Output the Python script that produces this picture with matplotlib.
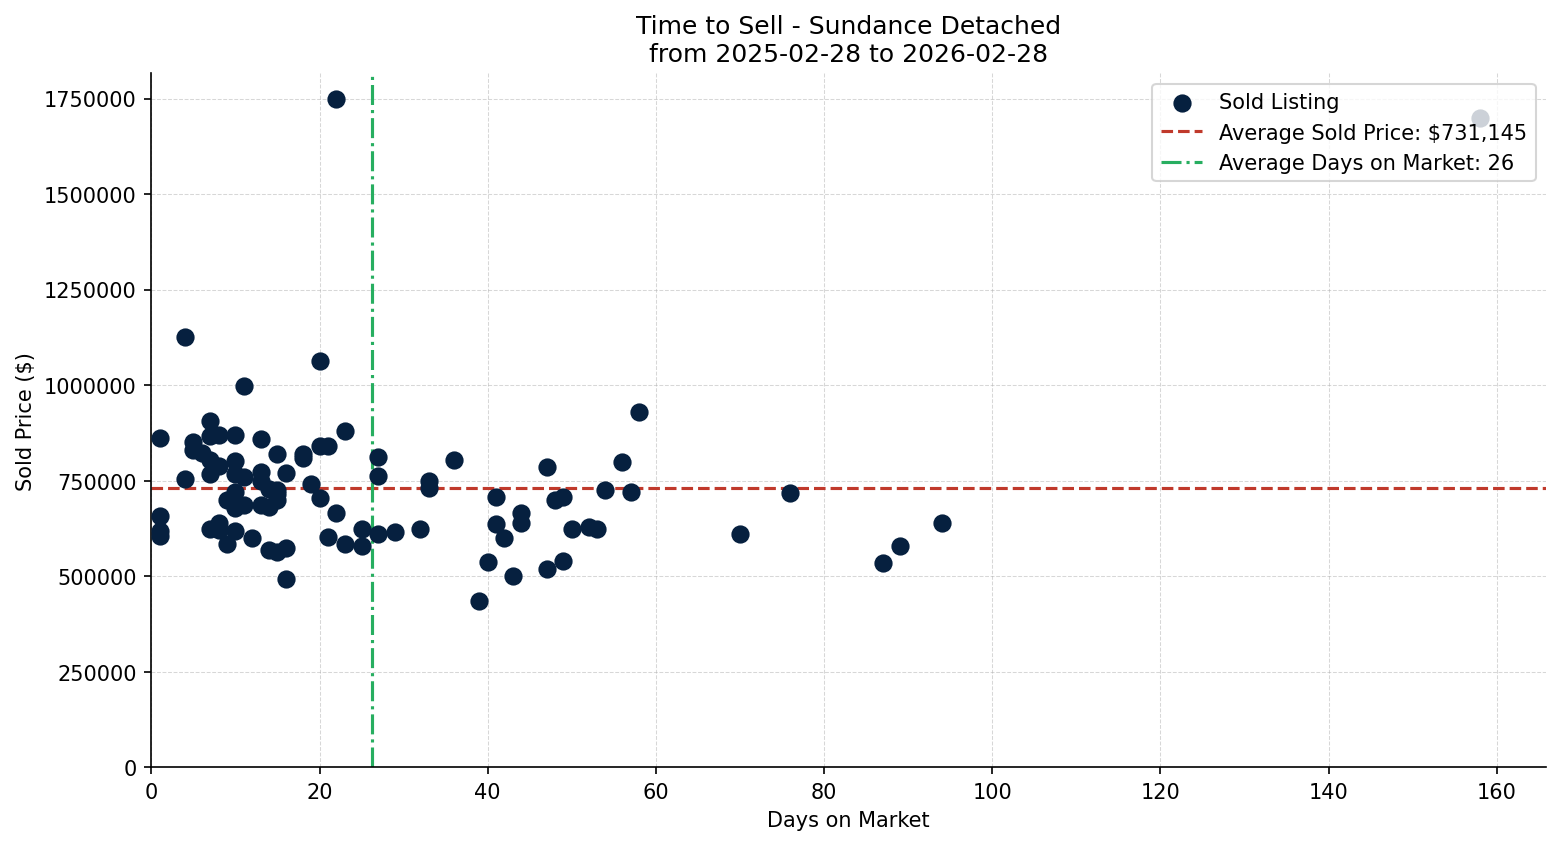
import matplotlib
matplotlib.use("Agg")
import matplotlib.pyplot as plt

# days on market / sold price
days = [4, 20, 11, 1, 7, 7, 8, 10, 13, 23,
        5, 5, 6, 7, 8, 7, 10, 10, 11, 15,
        13, 13, 16, 18, 18, 20, 21, 27, 27, 36,
        4, 19, 33, 33, 10, 15, 9, 10, 11, 13,
        14, 15, 20, 22, 1, 1, 1, 7, 8, 8,
        10, 9, 12, 14, 15, 16, 16, 21, 23, 25,
        25, 27, 29, 32, 14, 15,
        58, 47, 56, 41, 48, 49, 54, 57, 41, 42,
        44, 44, 50, 52, 53, 40, 43, 47, 49, 39,
        70, 76, 87, 89, 94, 22, 158]
prices = [1125000, 1062000, 997000, 861000, 905000, 866000, 868000, 868000, 860000, 880000,
          850000, 831000, 822000, 805000, 787000, 768000, 800000, 768000, 759000, 819000,
          772000, 748000, 770000, 819000, 809000, 841000, 841000, 811000, 763000, 805000,
          754000, 741000, 750000, 730000, 721000, 726000, 700000, 678000, 685000, 687000,
          682000, 700000, 704000, 666000, 656000, 619000, 605000, 623000, 639000, 621000,
          617000, 584000, 599000, 569000, 563000, 573000, 492000, 602000, 584000, 623000,
          580000, 611000, 615000, 623000, 728000, 716000,
          930000, 785000, 798000, 707000, 698000, 708000, 726000, 719000, 637000, 599000,
          666000, 639000, 624000, 628000, 623000, 538000, 500000, 518000, 540000, 435000,
          611000, 717000, 534000, 579000, 639000, 1750000, 1700000]

avg_price = 731145
avg_days = 26.2

fig, ax = plt.subplots(figsize=(10.4, 5.633), dpi=150)

ax.scatter(days, prices, s=60, color="#06203f", label="Sold Listing", zorder=3)
ax.axhline(avg_price, color="#c0392b", linestyle="--", linewidth=1.5,
           label=f"Average Sold Price: ${avg_price:,.0f}")
ax.axvline(avg_days, color="#27ae60", linestyle="-.", linewidth=1.5,
           label=f"Average Days on Market: {avg_days:.0f}")

ax.set_xlim(left=0)
ax.set_ylim(bottom=0)
ax.ticklabel_format(axis="y", style="plain", useOffset=False)

ax.set_title("Time to Sell - Sundance Detached\nfrom 2025-02-28 to 2026-02-28", fontsize=12)
ax.set_xlabel("Days on Market")
ax.set_ylabel("Sold Price ($)")
ax.grid(True, linestyle="--", linewidth=0.5, alpha=0.5)
ax.spines["top"].set_visible(False)
ax.spines["right"].set_visible(False)
ax.legend(loc="upper right")

plt.subplots_adjust(left=0.097, right=0.991, bottom=0.091, top=0.912)
plt.savefig("out.png", dpi=150)
